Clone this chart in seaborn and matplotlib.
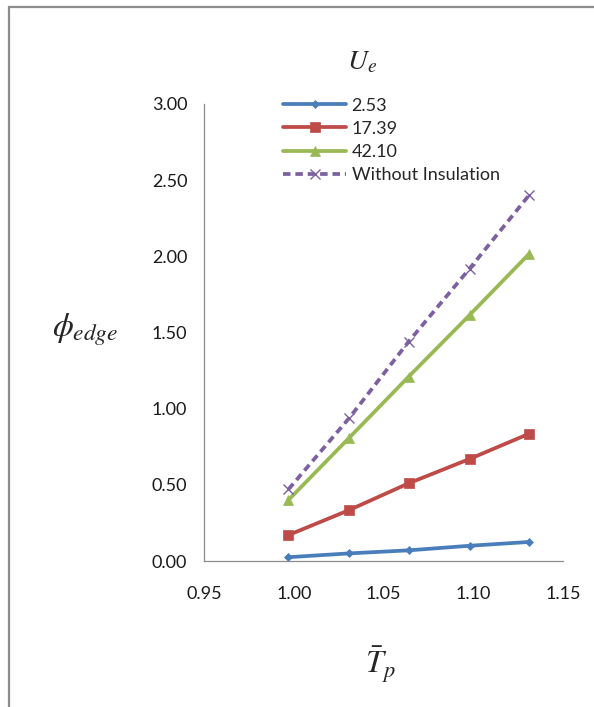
import matplotlib
matplotlib.use("Agg")
import matplotlib.pyplot as plt
import seaborn as sns
import pandas as pd
from matplotlib.patches import Rectangle
from matplotlib.ticker import FormatStrFormatter

x_vals = [0.997, 1.031, 1.064, 1.098, 1.131]
u_253 = [0.025, 0.05, 0.07, 0.10, 0.125]
u_1739 = [0.17, 0.335, 0.51, 0.67, 0.835]
u_4210 = [0.40, 0.81, 1.21, 1.615, 2.015]
no_ins = [0.47, 0.94, 1.44, 1.92, 2.40]
series_names = ["2.53", "17.39", "42.10", "Without Insulation"]
x_ticks = [0.95, 1.00, 1.05, 1.10, 1.15]
y_ticks = [0.0, 0.5, 1.0, 1.5, 2.0, 2.5, 3.0]

sns.set_theme(style="white")
plt.rcParams['font.family'] = ['Lato', 'DejaVu Sans']
plt.rcParams['mathtext.fontset'] = 'stix'

fig = plt.figure(figsize=(5.94, 7.07), dpi=100)
ax = fig.add_axes([204/594, 1-561/707, (563-204)/594, (561-104)/707])

colors = ["#4A7EBB", "#BE4B48", "#98B954", "#7D60A0"]
markers = ["D", "s", "^", "x"]
msizes = [4.5, 6.5, 6.5, 7]
styles = ["-", "-", "-", (0, (2.0, 1.3))]
data = [u_253, u_1739, u_4210, no_ins]

for name, vals, c, m, ms, ls in zip(series_names, data, colors, markers, msizes, styles):
    df = pd.DataFrame({"x": x_vals, "y": vals})
    sns.lineplot(data=df, x="x", y="y", ax=ax, color=c, marker=m, markersize=ms,
                 linewidth=2.7, linestyle=ls, label=name, markeredgecolor=c,
                 markeredgewidth=1.0 if m == "x" else 0.5)

ax.set_xlim(0.95, 1.15)
ax.set_ylim(0, 3.0)
ax.set_xticks(x_ticks)
ax.set_yticks(y_ticks)
ax.xaxis.set_major_formatter(FormatStrFormatter('%.2f'))
ax.yaxis.set_major_formatter(FormatStrFormatter('%.2f'))
ax.set_xlabel("")
ax.set_ylabel("")
for s in ["top", "right"]:
    ax.spines[s].set_visible(False)
for s in ["left", "bottom"]:
    ax.spines[s].set_color("#8c8c8c")
    ax.spines[s].set_linewidth(0.9)
ax.tick_params(axis="both", which="major", direction="out", length=5, width=0.9,
               color="#8c8c8c", labelsize=13, labelcolor="#1a1a1a")
ax.tick_params(axis="x", pad=13)
ax.tick_params(axis="y", pad=7)

leg = ax.legend(loc="upper left", bbox_to_anchor=((283-204)/359 - 0.02, 1.03), frameon=False,
                fontsize=13, handlelength=3.5, handletextpad=0.3, labelspacing=0.4,
                borderaxespad=0)

fig.text(85/594, 1-330/707, r"$\phi_{edge}$", fontsize=24, ha="center", va="center")
fig.text(380/594, 1-665/707, r"$\bar{T}_p$", fontsize=23, ha="center", va="center")
fig.text(362/594, 1-62/707, r"$U_e$", fontsize=20, ha="center", va="center")

fig.patches.append(Rectangle((9/594, -0.1), 1.2, 1 - 7/707 + 0.1, transform=fig.transFigure,
                             fill=False, edgecolor="#8c8c8c", linewidth=1.6))

fig.savefig("out.png", dpi=100)
